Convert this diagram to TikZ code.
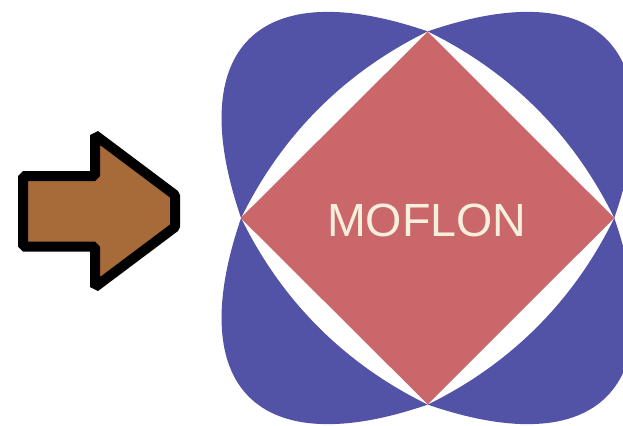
\documentclass[tikz,border=0pt]{standalone}
\usepackage{fontspec}
\setmainfont{Liberation Sans}
\definecolor{lobeblue}{RGB}{82,82,167}
\definecolor{gemred}{RGB}{201,103,106}
\definecolor{brandcream}{RGB}{247,238,220}
\definecolor{pointerbrown}{RGB}{167,107,57}

\begin{document}
\begin{tikzpicture}[
  x=0.5pt, y=-0.5pt,
  lobe/.style={fill=lobeblue},
  gem/.style={fill=gemred},
  pointer/.style={fill=pointerbrown, draw=black, line width=5pt, line join=bevel},
  brand/.style={text=brandcream, inner sep=0pt, font=\fontsize{23.3pt}{28pt}\selectfont}
]
\useasboundingbox (0,0) rectangle (623,425);
\clip (0,0) rectangle (623,425);

% Arrow
\draw[pointer] (23,176) -- (95,176) -- (95,135) -- (175,195) -- (175,227)
  -- (95,287) -- (95,246.5) -- (23,246.5) -- cycle;

% Logo
\coordinate (centre) at (427.7,218);
\foreach \a in {0,90,180,270}
  \fill[lobe, shift={(centre)}, rotate=\a]
    (-186.6,0) .. controls (-245,-169.5) and (-169.5,-245) .. (0,-186.6)
    .. controls (-83,-146) and (-146,-83) .. cycle;

\coordinate (west) at (240.7,218);
\coordinate (north) at (427.7,31.7);
\coordinate (east) at (614.3,218);
\coordinate (south) at (427.7,404.3);
\fill[gem] (west) -- (north) -- (east) -- (south) -- cycle;
\node[brand] (name) at (426.7,220) {MOFLON};

\end{tikzpicture}
\end{document}
